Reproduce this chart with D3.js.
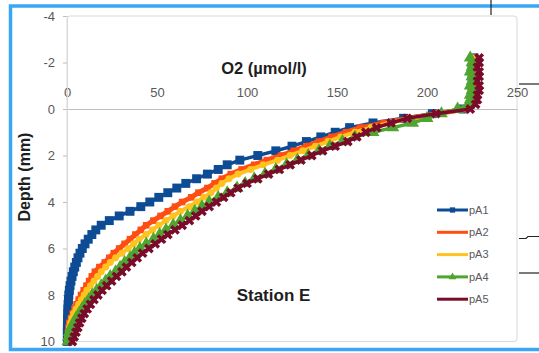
<!DOCTYPE html>
<html><head><meta charset="utf-8">
<script src="https://cdn.jsdelivr.net/npm/d3@7"></script>
<style>body{margin:0;background:#fff} svg{display:block} text{font-family:"Liberation Sans",Arial,sans-serif}</style>
</head><body>
<svg id="c" width="539" height="353"></svg>
<script>
const depth = [-2.2,-2,-1.8,-1.6,-1.4,-1.2,-1,-0.8,-0.6,-0.4,-0.2,
0,0.2,0.4,0.6,0.8,1,1.2,1.4,1.6,1.8,2,2.2,2.4,2.6,2.8,3,3.2,3.4,3.6,3.8,4,4.2,4.4,4.6,4.8,5,
5.2,5.4,5.6,5.8,6,6.2,6.4,6.6,6.8,7,7.2,7.4,7.6,7.8,8,8.2,8.4,8.6,8.8,9,9.2,9.4,9.6,9.8,10];
const pA1 = [226,226,225,226,225,226,225,226,225,225,224,
220,203,187,170,157,149,141,133,125,116,106,96,89,84,78,72,66,61,56,51,46,41,35,29,23.5,19,
16,13.8,11.8,10,8.5,7.2,6.1,5.2,4.3,3.5,2.8,2.2,1.7,1.3,1,0.8,0.6,0.5,0.4,0.3,0.3,0.2,0.2,0.2,0.2];
const pA2 = [227,227,227,226,227,227,226,227,227,226,225,
222,206,190,176,163,155,147,140,133,126,119,111,104,97,91,86,82,78,73,69,64,60,56,52,48,44,
41,38,35,32,29,26,23.5,21,18,15.5,13.8,12.3,10.8,9.3,7.8,6.5,5.3,4.2,3.2,2.2,1.3,0.9,0.6,0.4,0.3];
const pA3 = [225,225,226,225,225,226,225,225,226,225,224,
222,206,190,179,169,160,152,145,138,131,124,117,109,102,95,90,86,83,80,76,72,68,63,59,55,51,
47.5,44,40,37,34,30.5,27,24,21.5,19,17,15,13,11,9.5,8,6.5,5,3.7,2.7,2,1.4,0.9,0.5,0.3];
const pA4 = [224,225,225,224,225,225,224,225,224,224,223,
217,208,200,192,181,170,160,153,146,140,134,128,122,116,110,104,99,94.5,89,84,79,75,71,67,63,59,
55,51.5,48,44,40.5,37.5,35,32,29.5,27,24,21.5,19,16.5,14,12,10,8.3,6.6,5,3.6,2.3,1.3,0.8,0.5];
const pA5 = [229,229,228,229,229,228,229,229,228,228,227,
224,205,189,180,172,166,161,156,149,142,136,130,124,118,112,106,100,95,91,87,83,79,75,71.5,68,64,
60,56,52.5,49,45.5,42,39,36,33,30.5,27.5,24.8,22,19.5,17.2,15,13,11.2,9.6,8.2,7,6,5,4,3];
const seriesNames = ["pA1","pA2","pA3","pA4","pA5"];
const xTicks = [0,50,100,150,200,250];
const yTicks = [-4,-2,0,2,4,6,8,10];

const seriesValues = [pA1,pA2,pA3,pA4,pA5];
const colors = ["#0d4b95","#ff4d14","#ffc21f","#4fa62f","#7a0b2a"];
const symbols = [d3.symbolSquare, d3.symbolSquare, d3.symbolCircle, d3.symbolTriangle, d3.symbolCross];
const symSizes = [80, 44, 38, 72, 60];
const lineW = [3.5, 5, 4, 3.5, 3.5];

const svg = d3.select("#c");
const x = d3.scaleLinear().domain([0,250]).range([67,517]);
const y = d3.scaleLinear().domain([-4,10]).range([16,341.5]);
const fmt = d => String(d);

// outer blue frame
svg.append("rect").attr("x",10.5).attr("y",6).attr("width",545).attr("height",343.5)
  .attr("fill","none").attr("stroke","#3aa6f5").attr("stroke-width",3.5);

// plot area
svg.append("rect").attr("x",x(0)).attr("y",y(-4)).attr("width",x(250)-x(0)).attr("height",y(10)-y(-4))
  .attr("rx",3).attr("fill","#fff").attr("stroke","#d9d9d9").attr("stroke-width",1);

// stray black lines outside the chart
const stray = svg.append("g").attr("stroke","#222").attr("stroke-width",1.2).attr("fill","none");
stray.append("line").attr("x1",491).attr("x2",491).attr("y1",0).attr("y2",15);
stray.append("line").attr("x1",519).attr("x2",539).attr("y1",84).attr("y2",84);
stray.append("path").attr("d","M519,238.5 L526,238.5 L528,236.5 L539,236.5");
stray.append("line").attr("x1",519).attr("x2",539).attr("y1",273).attr("y2",273);

// x axis at depth 0, labels above
const gx = svg.append("g").attr("transform",`translate(0,${y(0)})`)
  .call(d3.axisTop(x).tickValues(xTicks).tickSize(0).tickPadding(12).tickFormat(fmt));
gx.select(".domain").attr("stroke","#bfbfbf");
gx.selectAll("text").attr("font-size",13).attr("fill","#595959").attr("font-family","Liberation Sans, Arial, sans-serif");

// y axis
const gy = svg.append("g").attr("transform",`translate(${x(0)},0)`)
  .call(d3.axisLeft(y).tickValues(yTicks).tickSize(4).tickPadding(8).tickFormat(fmt));
gy.select(".domain").attr("stroke","#d9d9d9");
gy.selectAll(".tick line").attr("stroke","#bfbfbf");
gy.selectAll("text").attr("font-size",13).attr("fill","#595959").attr("font-family","Liberation Sans, Arial, sans-serif");

// series
const line = d3.line().x(d=>x(d[1])).y(d=>y(d[0]));
seriesValues.forEach((vals,i)=>{
  const pts = depth.map((d,j)=>[d, vals[j]]);
  const g = svg.append("g");
  g.append("path").attr("d",line(pts)).attr("fill","none").attr("stroke",colors[i])
    .attr("stroke-width",lineW[i]).attr("stroke-linejoin","round");
  g.selectAll("path.m").data(pts).join("path").attr("class","m")
    .attr("transform",d=>`translate(${x(d[1])},${y(d[0])})${i===4?" rotate(45)":""}`)
    .attr("d",d3.symbol().type(symbols[i]).size(symSizes[i]))
    .attr("fill",colors[i]);
});

// titles
svg.append("text").attr("x",264).attr("y",74).attr("text-anchor","middle")
  .attr("font-size",16.5).attr("font-weight","bold").attr("fill","#1e1e1e").text("O2 (µmol/l)");
svg.append("text").attr("transform","translate(30,177) rotate(-90)").attr("text-anchor","middle")
  .attr("font-size",16).attr("font-weight","bold").attr("fill","#1e1e1e").text("Depth (mm)");
svg.append("text").attr("x",273.5).attr("y",301).attr("text-anchor","middle")
  .attr("font-size",17).attr("font-weight","bold").attr("fill","#1e1e1e").text("Station E");

// legend
const lg = svg.append("g");
seriesNames.forEach((n,i)=>{
  const yy = 210 + 22.3*i;
  lg.append("line").attr("x1",437).attr("x2",468).attr("y1",yy).attr("y2",yy)
    .attr("stroke",colors[i]).attr("stroke-width",3);
  if (i===0 || i===3) {
    lg.append("path").attr("transform",`translate(452.5,${yy})`)
      .attr("d",d3.symbol().type(symbols[i]).size(i===0?28:26)).attr("fill",colors[i]);
  }
  lg.append("text").attr("x",469).attr("y",yy).attr("dy","0.35em")
    .attr("font-size",11).attr("fill","#595959").text(n);
});
</script>
</body></html>
